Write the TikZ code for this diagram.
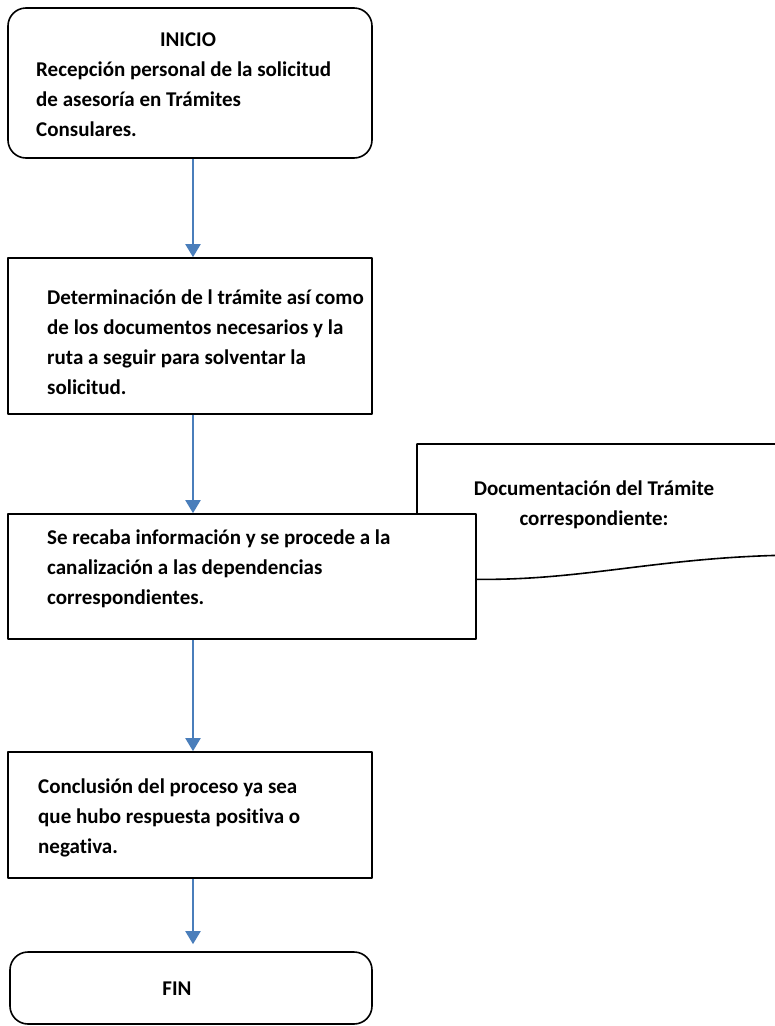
\documentclass[tikz,border=0pt]{standalone}
\usepackage{fontspec}
\setmainfont[Ligatures=NoCommon]{Carlito}
\usetikzlibrary{arrows.meta}
\definecolor{azul}{HTML}{4A7EBB}

\begin{document}
\begin{tikzpicture}[x=1pt,y=-1pt,
          line join=round,
          caja/.style={draw=black,line width=1.6pt,fill=white,inner sep=0pt},
          redonda/.style={caja,rounded corners=18pt},
          txt/.style={font=\fontsize{21}{30}\selectfont\bfseries,inner sep=0pt,align=left},
          flecha/.style={azul,line width=2pt,-{Triangle[width=15pt,length=13pt]}}]
        \useasboundingbox (0,0) rectangle (775,1026);
        % documento (detras de la caja 3)
        \draw[line width=1.6pt] (800,444) -- (417,444) -- (417,576)
              .. controls (560,590) and (640,556) .. (800,555);
        \node[txt,anchor=base,align=center] (docu) at (594,525)
          {Documentación del Trámite\\correspondiente:};
        % cajas
        \node[redonda,minimum width=364pt,minimum height=150pt] (inicio) at (190,83) {};
        \node[caja,minimum width=364pt,minimum height=156pt] (tramite) at (190,336) {};
        \node[caja,minimum width=468pt,minimum height=125pt] (recaba) at (242,576.5) {};
        \node[caja,minimum width=364pt,minimum height=126pt] (conclusion) at (190,815) {};
        \node[redonda,minimum width=362pt,minimum height=72pt] (fin) at (191,988) {};
        % textos (anclados en la ultima linea)
        \node[txt,anchor=base] (tinicio) at (188,46) {INICIO};
        \node[txt,anchor=base west] (trecepcion) at (36,136)
          {Recepción personal de la solicitud\\de asesoría en Trámites\\Consulares.};
        \node[txt,anchor=base west] (ttramite) at (47,394)
          {Determinación de l trámite así como\\de los documentos necesarios y la\\ruta a seguir para solventar la\\solicitud.};
        \node[txt,anchor=base west] (trecaba) at (47,604)
          {Se recaba información y se procede a la\\canalización a las dependencias\\correspondientes.};
        \node[txt,anchor=base west] (tconclusion) at (38,853)
          {Conclusión del proceso ya sea\\que hubo respuesta positiva o\\negativa.};
        \node[txt,anchor=base] (tfin) at (177,995) {FIN};
        % flechas
        \draw[flecha] ([xshift=3pt]inicio.south) -- ([xshift=3pt]tramite.north);
        \draw[flecha] ([xshift=3pt]tramite.south) -- ([xshift=3pt]tramite.south |- recaba.north);
        \draw[flecha] ([xshift=3pt]conclusion.north |- recaba.south) -- ([xshift=3pt]conclusion.north);
        \draw[flecha,shorten >=7pt] ([xshift=3pt]conclusion.south) -- ([xshift=3pt]conclusion.south |- fin.north);
      \end{tikzpicture}
\end{document}
